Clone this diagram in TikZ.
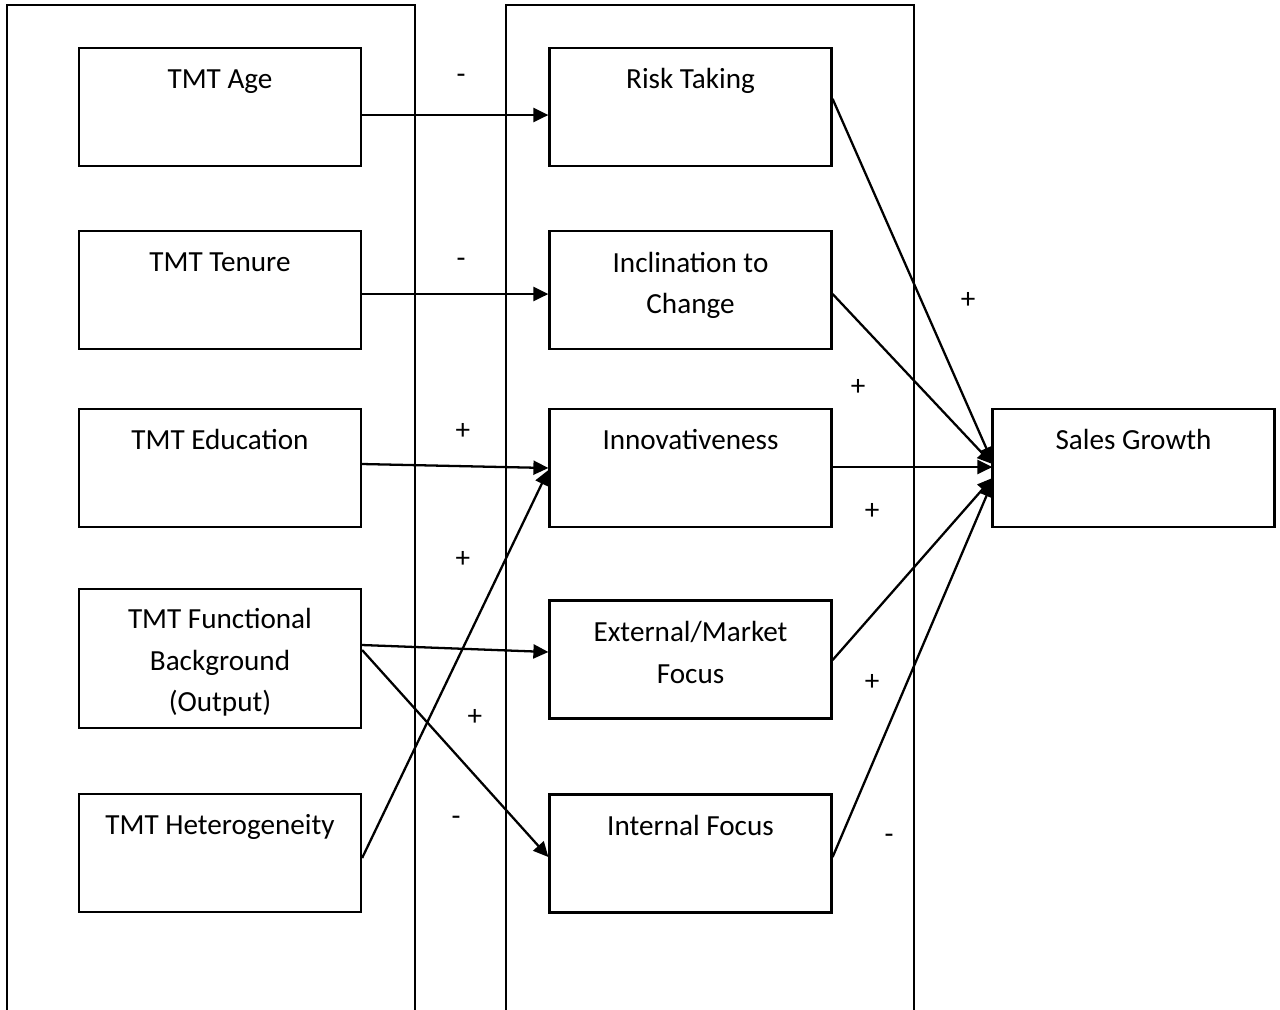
\documentclass[tikz,border=0pt]{standalone}
\usepackage{fontspec}
\setmainfont{Carlito}
\usetikzlibrary{arrows.meta,calc}
\begin{document}
\begin{tikzpicture}[x=0.02cm,y=-0.02cm,
  every node/.style={font=\fontsize{16.6}{23.8}\selectfont},
  box/.style={draw,line width=1.3pt,rectangle,minimum width=5.64cm,minimum height=2.36cm,inner sep=0pt},
  lab/.style={anchor=base,align=center,inner sep=0pt,yshift=-0.84cm},
  lab2/.style={lab,yshift=-0.84cm},
  lab3/.style={lab,yshift=-1.64cm},
  sign/.style={inner sep=0pt},
  conn/.style={line width=1.3pt,-{Triangle[length=0.3cm,width=0.28cm]}},
  frame/.style={line width=1.3pt}]
\useasboundingbox (0,0) rectangle (1280,1009);
% outer frames
\draw[frame] (7,1015) -- (7,5) -- (415,5) -- (415,1015);
\draw[frame] (506,1015) -- (506,5) -- (914,5) -- (914,1015);
% left column
\node[box,label={[lab]north:TMT Age}] (age) at (220,107) {};
\node[box,label={[lab]north:TMT Tenure}] (tenure) at (220,290) {};
\node[box,label={[lab]north:TMT Education}] (edu) at (220,468) {};
\node[box,minimum height=2.78cm,label={[lab3]north:TMT Functional\\Background\\(Output)}] (func) at (220,658.5) {};
\node[box,label={[lab]north:TMT Heterogeneity}] (het) at (220,853) {};
% middle column
\node[box,label={[lab]north:Risk Taking}] (risk) at (690.5,107) {};
\node[box,label={[lab2]north:Inclination to\\Change}] (incl) at (690.5,290) {};
\node[box,label={[lab]north:Innovativeness}] (inno) at (690.5,468) {};
\node[box,label={[lab2]north:External/Market\\Focus}] (ext) at (690.5,659.5) {};
\node[box,label={[lab]north:Internal Focus}] (int) at (690.5,853.5) {};
% outcome
\node[box,label={[lab]north:Sales Growth}] (sales) at (1133.5,468) {};
% connectors left
\draw[conn] ($(age.east)+(0,8)$) -- ($(risk.west)+(0,8)$);
\draw[conn] ($(tenure.east)+(0,4)$) -- ($(incl.west)+(0,4)$);
\draw[conn] ($(edu.east)+(0,-4)$) -- ($(inno.west)+(0,0)$);
\draw[conn] ($(func.east)+(0,-13.5)$) -- ($(ext.west)+(0,-7.5)$);
\draw[conn] ($(func.east)+(0,-8.5)$) -- ($(int.west)+(0,3.5)$);
\draw[conn] ($(het.east)+(0,5)$) -- ($(inno.west)+(0,2)$);
% connectors right
\draw[conn] ($(risk.north east)+(0,52)$) -- ($(sales.west)+(1,-6)$);
\draw[conn] ($(incl.east)+(0,4)$) -- ($(sales.west)+(1,-4)$);
\draw[conn] ($(inno.east)+(0,-1)$) -- ($(sales.west)+(1,-1)$);
\draw[conn] ($(ext.east)+(0,0.5)$) -- ($(sales.west)+(1,10)$);
\draw[conn] ($(int.east)+(0,3.5)$) -- ($(sales.west)+(1,14)$);
% signs
\node[sign] (s1) at (461,79) {-};
\node[sign] (s2) at (461,263) {-};
\node[sign] (s3) at (463,431) {+};
\node[sign] (s4) at (463,559) {+};
\node[sign] (s5) at (475,717) {+};
\node[sign] (s6) at (456,821) {-};
\node[sign] (s7) at (968,300) {+};
\node[sign] (s8) at (858,387) {+};
\node[sign] (s9) at (872,511) {+};
\node[sign] (s10) at (872,682) {+};
\node[sign] (s11) at (889,839) {-};
\end{tikzpicture}
\end{document}
